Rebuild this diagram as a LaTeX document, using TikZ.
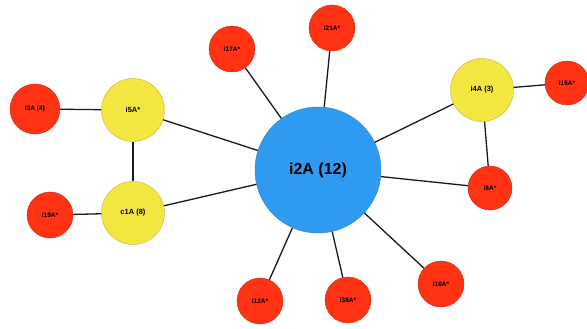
\documentclass[tikz,border=0pt]{standalone}
\usepackage{fontspec}
\setsansfont{Liberation Sans}
\usepackage{tikz}

\begin{document}
\begin{tikzpicture}[
            x=1pt, y=-1pt,
            font=\sffamily\bfseries,
            hub/.style={circle, fill=hubblue, draw=hubblue!85!black, thin,
                                        minimum size=126pt, inner sep=0pt,
                                        font=\sffamily\bfseries\fontsize{16}{18}\selectfont},
            mid/.style={circle, fill=midyellow, draw=midyellow!80!black, thin,
                                        minimum size=63pt, inner sep=0pt,
                                        font=\sffamily\bfseries\fontsize{7.5}{8}\selectfont},
            leaf/.style={circle, fill=leafred, draw=leafred!80!black, thin,
                                        minimum size=46pt, inner sep=0pt,
                                        font=\sffamily\bfseries\fontsize{6.5}{7}\selectfont},
            link/.style={line width=1.3pt, black!90}
        ]
        \definecolor{hubblue}{HTML}{2E9BF0}
        \definecolor{midyellow}{HTML}{F3E640}
        \definecolor{leafred}{HTML}{FF3214}

        \useasboundingbox (0,0) rectangle (587,329);

        % Central node
        \node[hub] (i2A) at (318,170) {i2A (12)};

        % Left cluster
        \node[mid] (i5A) at (133,110) {i5A*};
        \node[mid] (c1A) at (133,213) {c1A (8)};
        \node[leaf, minimum size=50pt] (i3A) at (35,109) {i3A (4)};
        \node[leaf] (i19A) at (50,215) {i19A*};

        % Top
        \node[leaf] (i17A) at (232,49) {i17A*};
        \node[leaf] (i21A) at (332,28) {i21A*};

        % Right cluster
        \node[mid] (i4A) at (482,90) {i4A (3)};
        \node[leaf, minimum size=44pt] (i15A) at (567,83) {i15A*};
        \node[leaf, minimum size=44pt] (i8A) at (490,188) {i8A*};

        % Bottom
        \node[leaf] (i10A) at (441,284) {i10A*};
        \node[leaf] (i38A) at (348,300) {i38A*};
        \node[leaf] (i12A) at (260,301) {i12A*};

        % Connections
        \draw[link] (i3A) -- (i5A);
        \draw[link] (i5A) -- (c1A);
        \draw[link] (i19A) -- (c1A);
        \draw[link] (i5A) -- (i2A);
        \draw[link] (c1A) -- (i2A);
        \draw[link] (i17A) -- (i2A);
        \draw[link] (i21A) -- (i2A);
        \draw[link] (i4A) -- (i2A);
        \draw[link] (i4A) -- (i15A);
        \draw[link] (i4A) -- (i8A);
        \draw[link] (i8A) -- (i2A);
        \draw[link] (i10A) -- (i2A);
        \draw[link] (i38A) -- (i2A);
        \draw[link] (i12A) -- (i2A);

        \end{tikzpicture}
\end{document}
